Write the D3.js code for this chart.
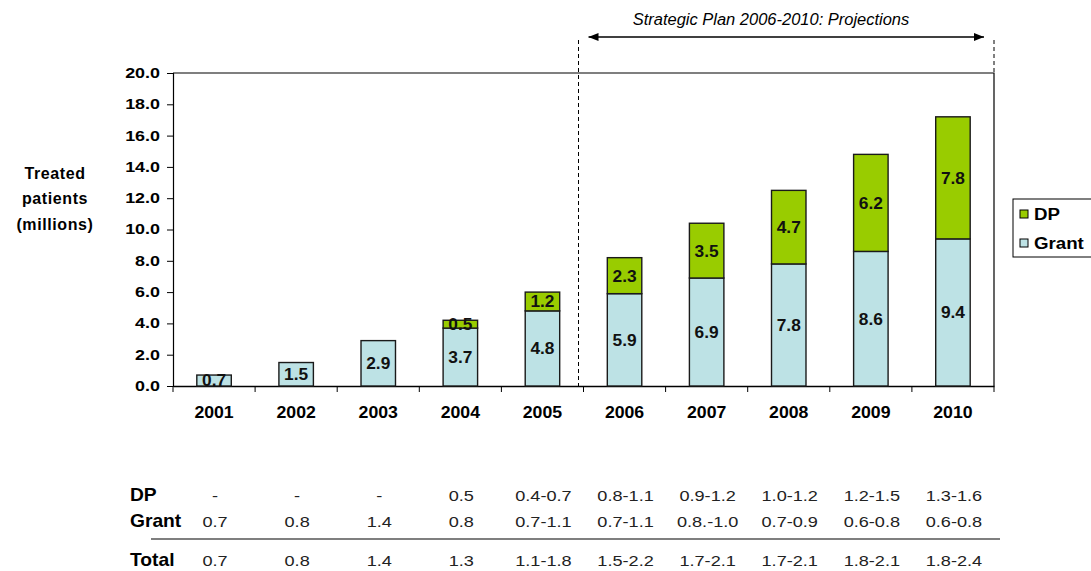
<!DOCTYPE html>
<html>
<head>
<meta charset="utf-8">
<script src="https://cdn.jsdelivr.net/npm/d3@7/dist/d3.min.js"></script>
<style>
  html, body { margin: 0; padding: 0; background: #fff; }
  svg { display: block; font-family: Arial, "Liberation Sans", sans-serif; }
</style>
</head>
<body>
<svg id="chart" width="1091" height="571"></svg>
<script>
// Treated patients by year, split by funding source (millions)
const years = ["2001", "2002", "2003", "2004", "2005", "2006", "2007", "2008", "2009", "2010"];
const grantValues = [0.7, 1.5, 2.9, 3.7, 4.8, 5.9, 6.9, 7.8, 8.6, 9.4];
const dpValues    = [0, 0, 0, 0.5, 1.2, 2.3, 3.5, 4.7, 6.2, 7.8];
const yTicks = [0, 2, 4, 6, 8, 10, 12, 14, 16, 18, 20];

// Table beneath the chart
const tableDP    = ["-", "-", "-", "0.5", "0.4-0.7", "0.8-1.1", "0.9-1.2", "1.0-1.2", "1.2-1.5", "1.3-1.6"];
const tableGrant = ["0.7", "0.8", "1.4", "0.8", "0.7-1.1", "0.7-1.1", "0.8.-1.0", "0.7-0.9", "0.6-0.8", "0.6-0.8"];
const tableTotal = ["0.7", "0.8", "1.4", "1.3", "1.1-1.8", "1.5-2.2", "1.7-2.1", "1.7-2.1", "1.8-2.1", "1.8-2.4"];

const series = [
  { key: "Grant", values: grantValues, color: "#bde2e5" },
  { key: "DP", values: dpValues, color: "#99cc00" }
];

const svg = d3.select("#chart");
const plot = { left: 173, right: 994, top: 73, bottom: 386 };

// Widen text horizontally around its anchor point
function stretch(sel, sx) {
  sel.each(function () {
    const t = d3.select(this);
    const x = +t.attr("x") || 0;
    t.attr("transform", `translate(${x},0) scale(${sx},1) translate(${-x},0)`);
  });
}

const x = d3.scaleBand().domain(years).range([plot.left, plot.right]).padding(0);
const y = d3.scaleLinear().domain([0, 20]).range([plot.bottom, plot.top]);
const barW = x.bandwidth() * 0.42;

// Plot frame (top and right)
svg.append("path")
  .attr("d", `M${plot.left},${plot.top}H${plot.right}V${plot.bottom}`)
  .attr("fill", "none").attr("stroke", "#000").attr("stroke-width", 1.2);

// Y axis
const yAxis = svg.append("g")
  .attr("transform", `translate(${plot.left},0)`)
  .call(d3.axisLeft(y).tickValues(yTicks).tickFormat(d3.format(".1f")).tickSize(6).tickPadding(7));
yAxis.select(".domain").attr("stroke", "#000").attr("stroke-width", 1.2);
yAxis.selectAll(".tick line").attr("stroke", "#000");
yAxis.selectAll("text").attr("font-size", 14).attr("font-weight", "bold").attr("fill", "#000")
  .call(stretch, 1.28);

// X axis with ticks on category boundaries
const xAxis = svg.append("g")
  .attr("transform", `translate(0,${plot.bottom})`)
  .call(d3.axisBottom(x).tickSize(0).tickPadding(20));
xAxis.select(".domain").attr("stroke", "#000").attr("stroke-width", 1.4);
xAxis.selectAll("text").attr("font-size", 17).attr("font-weight", "bold").attr("fill", "#000")
  .call(stretch, 1.04);
const bounds = years.map(d => x(d)).concat([x(years[years.length - 1]) + x.bandwidth()]);
svg.append("g").selectAll("line").data(bounds).join("line")
  .attr("x1", d => d).attr("x2", d => d)
  .attr("y1", plot.bottom).attr("y2", plot.bottom + 6)
  .attr("stroke", "#000").attr("stroke-width", 1);

// Stacked bars
const stackData = years.map((yr, i) => ({ year: yr, Grant: grantValues[i], DP: dpValues[i] }));
const stacked = d3.stack().keys(series.map(s => s.key))(stackData);
const colorOf = k => series.find(s => s.key === k).color;

const layers = svg.append("g").selectAll("g").data(stacked).join("g")
  .attr("fill", d => colorOf(d.key));
layers.selectAll("rect")
  .data(d => d.filter(p => p[1] - p[0] > 0))
  .join("rect")
  .attr("x", p => x(p.data.year) + (x.bandwidth() - barW) / 2)
  .attr("width", barW)
  .attr("y", p => y(p[1]))
  .attr("height", p => y(p[0]) - y(p[1]))
  .attr("stroke", "#1a1a1a").attr("stroke-width", 1.4);

// Value labels inside segments
layers.selectAll("text")
  .data(d => d.filter(p => p[1] - p[0] > 0).map(p => ({ p, key: d.key })))
  .join("text")
  .attr("x", d => x(d.p.data.year) + x.bandwidth() / 2)
  .attr("y", d => (y(d.p[0]) + y(d.p[1])) / 2)
  .attr("dy", "0.36em")
  .attr("text-anchor", "middle")
  .attr("font-size", 16.5).attr("font-weight", "bold").attr("fill", "#111")
  .text(d => d3.format(".1f")(d.p.data[d.key]))
  .call(stretch, 1.05);

// Y axis title
const yTitle = svg.append("text")
  .attr("x", 55).attr("y", 173)
  .attr("text-anchor", "middle").attr("font-size", 16).attr("font-weight", "bold")
  .attr("letter-spacing", 0.6);
yTitle.selectAll("tspan").data(["Treated", "patients", "(millions)"]).join("tspan")
  .attr("x", 55).attr("dy", (d, i) => i === 0 ? "0.36em" : 25.5)
  .text(d => d);

// Legend
const legend = svg.append("g");
legend.append("rect")
  .attr("x", 1013).attr("y", 199).attr("width", 100).attr("height", 58)
  .attr("fill", "#fff").attr("stroke", "#000").attr("stroke-width", 1);
const legendItems = [series[1], series[0]];
const lg = legend.selectAll("g.item").data(legendItems).join("g")
  .attr("transform", (d, i) => `translate(1020,${214 + i * 29})`);
lg.append("rect")
  .attr("x", 0).attr("y", -4).attr("width", 8).attr("height", 8)
  .attr("fill", d => d.color).attr("stroke", "#000").attr("stroke-width", 1);
lg.append("text")
  .attr("x", 14).attr("dy", "0.36em")
  .attr("font-size", 17).attr("font-weight", "bold")
  .text(d => d.key)
  .call(stretch, 1.1);

// Projection period marker
const splitX = x("2006") - 5;
const endX = plot.right;
const dash = "4,3";
svg.append("line").attr("x1", splitX).attr("x2", splitX).attr("y1", 40).attr("y2", plot.bottom)
  .attr("stroke", "#000").attr("stroke-width", 1).attr("stroke-dasharray", dash);
svg.append("line").attr("x1", endX).attr("x2", endX).attr("y1", 40).attr("y2", plot.top)
  .attr("stroke", "#000").attr("stroke-width", 1).attr("stroke-dasharray", dash);

const defs = svg.append("defs");
["start", "end"].forEach(id => {
  defs.append("marker")
    .attr("id", "arrow-" + id)
    .attr("viewBox", "0 0 10 8").attr("refX", id === "end" ? 10 : 0).attr("refY", 4)
    .attr("markerWidth", 10).attr("markerHeight", 8).attr("markerUnits", "userSpaceOnUse")
    .attr("orient", "auto")
    .append("path")
    .attr("d", id === "end" ? "M0,0L10,4L0,8Z" : "M10,0L0,4L10,8Z")
    .attr("fill", "#000");
});
svg.append("line")
  .attr("x1", splitX + 10).attr("x2", endX - 10).attr("y1", 37).attr("y2", 37)
  .attr("stroke", "#000").attr("stroke-width", 1.4)
  .attr("marker-start", "url(#arrow-start)").attr("marker-end", "url(#arrow-end)");
svg.append("text")
  .attr("x", 771).attr("y", 25)
  .attr("text-anchor", "middle").attr("font-size", 16).attr("font-style", "italic")
  .text("Strategic Plan 2006-2010: Projections")
  .call(stretch, 1.03);

// Table of ranges
const colX = d => x(d) + x.bandwidth() / 2 + 1;
const rows = [
  { label: "DP", values: tableDP, y: 501 },
  { label: "Grant", values: tableGrant, y: 527 },
  { label: "Total", values: tableTotal, y: 566 }
];
const table = svg.append("g");
rows.forEach(r => {
  table.append("text")
    .attr("x", 130).attr("y", r.y)
    .attr("font-size", 17.5).attr("font-weight", "bold")
    .text(r.label)
    .call(stretch, 1.1);
  table.selectAll(null).data(r.values).join("text")
    .attr("x", (d, i) => colX(years[i]))
    .attr("y", r.y)
    .attr("text-anchor", "middle").attr("font-size", 14.5).attr("fill", "#222")
    .text(d => d)
    .call(stretch, 1.25);
});
table.append("line")
  .attr("x1", 151).attr("x2", 1000).attr("y1", 539).attr("y2", 539)
  .attr("stroke", "#000").attr("stroke-width", 1.2);
</script>
</body>
</html>
